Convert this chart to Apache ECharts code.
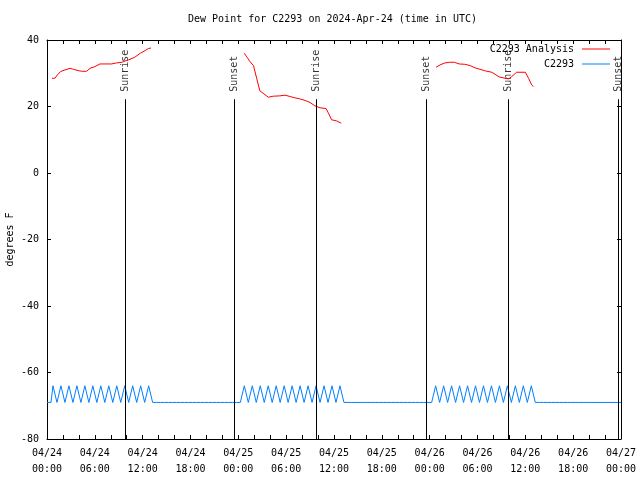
<!DOCTYPE html>
<html>
<head>
<meta charset="utf-8">
<script src="https://cdn.jsdelivr.net/npm/echarts@6/dist/echarts.min.js"></script>
<style>
html,body{margin:0;padding:0;background:#fff;}
#chart{width:640px;height:480px;}
</style>
</head>
<body>
<div id="chart"></div>
<script>
// ---- data ----
const titleText = 'Dew Point for C2293 on 2024-Apr-24 (time in UTC)';
const xTickLabels = ['04/24\n00:00','04/24\n06:00','04/24\n12:00','04/24\n18:00',
  '04/25\n00:00','04/25\n06:00','04/25\n12:00','04/25\n18:00',
  '04/26\n00:00','04/26\n06:00','04/26\n12:00','04/26\n18:00','04/27\n00:00'];

// Analysis (red), hours since 04/24 00:00 UTC
const anaTimes1 = [0.63,1.0,1.3,1.7,2.26,2.9,3.3,3.9,4.35,4.98,5.4,6.0,6.65,8.1,8.7,9.4,9.8,10.2,11.0,11.7,12.3,12.7,13.05];
const anaVals1  = [28.5,28.5,29.5,30.5,31,31.5,31.2,30.8,30.6,30.6,31.5,32,32.8,32.8,33.1,33.3,33.7,34,34.8,36,36.8,37.4,37.6];
const anaTimes2 = [24.75,25.1,25.46,25.9,26.3,26.7,27.1,27.76,28.4,29.2,29.85,30.5,31.1,31.7,32.4,33,33.6,34.25,35,35.3,35.7,36.3,36.9];
const anaVals2  = [36,34.8,33.5,32.3,28.5,24.7,24,22.8,23.1,23.2,23.4,23,22.6,22.3,21.8,21.2,20.2,19.6,19.4,18,16,15.7,15];
const anaTimes3 = [48.8,49.3,49.9,50.5,51.1,51.7,52.4,53.1,53.7,54.3,55,55.8,56.2,56.7,57.45,57.9,58.3,58.9,60,60.4,60.8,61];
const anaVals3  = [31.8,32.5,33.1,33.3,33.3,32.8,32.7,32.3,31.6,31.2,30.7,30.3,29.7,28.9,28.5,28.3,29,30.3,30.3,28.5,26.5,26];

// Observations (blue), one value every 15 minutes
const obsStepHours = 0.25;
const obsDay1 = [
 -69,-69,-69,-64, -64,-69,-69,-64, -64,-69,-69,-64, -64,-69,-69,-64,
 -64,-69,-69,-64, -64,-69,-69,-64, -64,-69,-69,-64, -64,-69,-69,-64,
 -64,-69,-69,-64, -64,-69,-69,-64, -64,-69,-69,-64, -64,-69,-69,-64,
 -64,-69,-69,-64, -64,-69,-69,-69, -69,-69,-69,-69, -69,-69,-69,-69,
 -69,-69,-69,-69, -69,-69,-69,-69, -69,-69,-69,-69, -69,-69,-69,-69,
 -69,-69,-69,-69, -69,-69,-69,-69, -69,-69,-69,-69, -69,-69,-69,-69];
const obsDay2 = [
 -69,-69,-69,-64, -64,-69,-69,-64, -64,-69,-69,-64, -64,-69,-69,-64,
 -64,-69,-69,-64, -64,-69,-69,-64, -64,-69,-69,-64, -64,-69,-69,-64,
 -64,-69,-69,-64, -64,-69,-69,-64, -64,-69,-69,-64, -64,-69,-69,-64,
 -64,-69,-69,-64, -64,-69,-69,-69, -69,-69,-69,-69, -69,-69,-69,-69,
 -69,-69,-69,-69, -69,-69,-69,-69, -69,-69,-69,-69, -69,-69,-69,-69,
 -69,-69,-69,-69, -69,-69,-69,-69, -69,-69,-69,-69, -69,-69,-69,-69];
const obsDay3 = [
 -69,-69,-69,-64, -64,-69,-69,-64, -64,-69,-69,-64, -64,-69,-69,-64,
 -64,-69,-69,-64, -64,-69,-69,-64, -64,-69,-69,-64, -64,-69,-69,-64,
 -64,-69,-69,-64, -64,-69,-69,-64, -64,-69,-69,-64, -64,-69,-69,-64,
 -64,-69,-69,-64, -64,-69,-69,-69, -69,-69,-69,-69, -69,-69,-69,-69,
 -69,-69,-69,-69, -69,-69,-69,-69, -69,-69,-69,-69, -69,-69,-69,-69,
 -69,-69,-69,-69, -69,-69,-69,-69, -69,-69,-69,-69, -69,-69,-69,-69];
const obsEnd = [-69];

// Sunrise / sunset markers
const eventTimes = [9.87, 23.5, 33.78, 47.58, 57.87, 71.67];
const eventNames = ['Sunrise','Sunset','Sunrise','Sunset','Sunrise','Sunset'];
const eventLineTop = 22.2;
const eventLabelBase = 24.4;

// ---- build ----
const FONT = 'DejaVu Sans Mono';
function pairs(ts, vs){ return ts.map((t,i)=>[t, vs[i]]); }
const anaData = pairs(anaTimes1, anaVals1).concat([[18, null]], pairs(anaTimes2, anaVals2), [[42, null]], pairs(anaTimes3, anaVals3));
const obsVals = obsDay1.concat(obsDay2, obsDay3, obsEnd);
const obsData = obsVals.map((v,i)=>[i*obsStepHours, v]);
const evData = eventTimes.map((t,i)=>[t, eventLabelBase, eventNames[i]]);
const evLines = eventTimes.map(t=>[{coord:[t, eventLineTop]},{coord:[t, -80]}]);

const chart = echarts.init(document.getElementById('chart'), null, {renderer:'canvas'});
const axisLine = {show:true, onZero:false, lineStyle:{color:'#000', width:1}};
const tick = {show:true, inside:true, length:4, lineStyle:{color:'#000'}};
chart.setOption({
  animation:false,
  backgroundColor:'#fff',
  title:{text:titleText, left:188, top:14, padding:0,
    textStyle:{fontFamily:FONT, fontSize:10, fontWeight:'normal', color:'#000'}},
  legend:{
    data:['C2293 Analysis','C2293'], orient:'vertical', right:25, top:38, align:'right',
    icon:'rect', itemWidth:28, itemHeight:1, itemGap:3,
    textStyle:{fontFamily:FONT, fontSize:10, color:'#000', lineHeight:12, padding:[0,3,0,0]}
  },
  grid:{left:47, right:19, top:40, bottom:41, containLabel:false, outerBoundsMode:'none'},
  xAxis:[{
    type:'value', min:0, max:72, interval:6, position:'bottom',
    axisLine:axisLine, axisTick:tick,
    minorTick:{show:true, splitNumber:3, length:4, lineStyle:{color:'#000'}},
    splitLine:{show:false},
    axisLabel:{fontFamily:FONT, fontSize:10, color:'#000', lineHeight:16, margin:6,
      formatter:v=>xTickLabels[Math.round(v/6)]}
  },{
    type:'value', min:0, max:72, interval:6, position:'top',
    axisLine:axisLine, axisTick:tick,
    minorTick:{show:true, splitNumber:3, length:4, lineStyle:{color:'#000'}},
    splitLine:{show:false}, axisLabel:{show:false}
  }],
  yAxis:[{
    type:'value', min:-80, max:40, interval:20, position:'left',
    axisLine:axisLine, axisTick:tick, splitLine:{show:false},
    axisLabel:{fontFamily:FONT, fontSize:10, color:'#000', margin:8},
    name:'degrees F', nameLocation:'middle', nameRotate:90, nameGap:32, nameMoveOverlap:false,
    nameTextStyle:{fontFamily:FONT, fontSize:10, color:'#000'}
  },{
    type:'value', min:-80, max:40, interval:20, position:'right',
    axisLine:axisLine, axisTick:tick, splitLine:{show:false}, axisLabel:{show:false}
  }],
  series:[
    {name:'C2293 Analysis', type:'line', data:anaData, symbol:'none', connectNulls:false,
      lineStyle:{color:'#ff0000', width:1}, itemStyle:{color:'#ff0000'}},
    {name:'C2293', type:'line', data:obsData, symbol:'none',
      lineStyle:{color:'#0080ff', width:1}, itemStyle:{color:'#0080ff'}},
    {name:'events', type:'scatter', data:evData, symbolSize:0, silent:true,
      label:{show:true, formatter:p=>p.data[2], position:'inside', rotate:90,
        align:'left', verticalAlign:'middle', fontFamily:FONT, fontSize:10, color:'#000'},
      markLine:{silent:true, symbol:['none','none'], label:{show:false},
        lineStyle:{color:'#000', width:1, type:'solid'}, data:evLines}
    }
  ]
});
</script>
</body>
</html>
